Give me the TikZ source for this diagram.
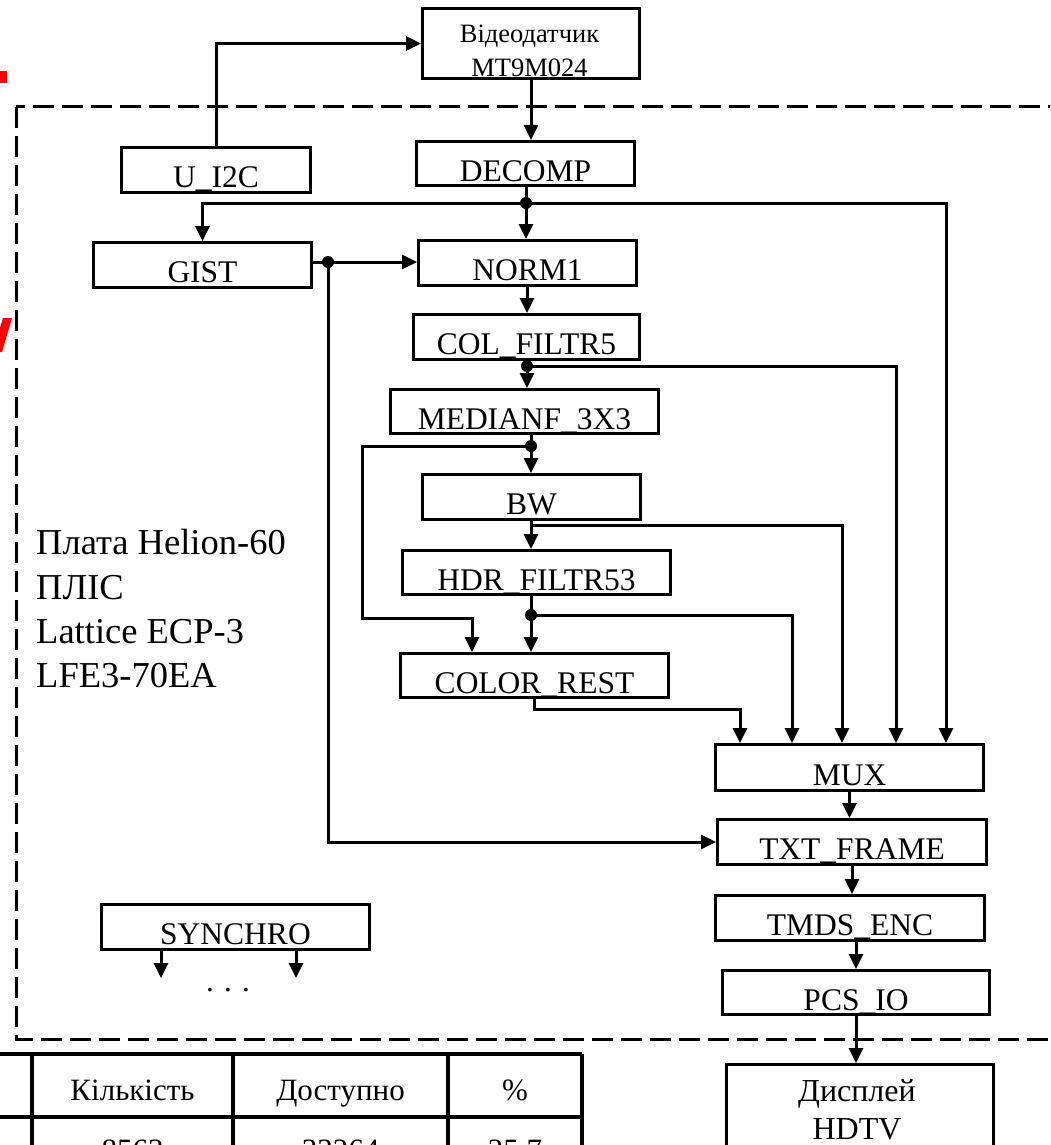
\documentclass[tikz,border=0pt]{standalone}
\usepackage{fontspec}
\setmainfont{Liberation Serif}
\usetikzlibrary{arrows.meta}
\begin{document}
\begin{tikzpicture}[x=1pt,y=-1pt,
  blk/.style={draw, line width=3pt, rectangle, anchor=north west, inner sep=0pt,
    text height=35pt, text depth=0pt, font=\fontsize{31.5}{37}\selectfont},
  con/.style={line width=3pt},
  arr/.style={con, -{Triangle[length=15pt,width=14pt]}},
  jdot/.style={circle, fill, inner sep=0pt, minimum size=12pt},
  lbl/.style={anchor=base, inner sep=0pt},
  big/.style={font=\fontsize{36.5}{42}\selectfont},
  mid/.style={font=\fontsize{31}{37}\selectfont},
  small/.style={font=\fontsize{26.5}{30}\selectfont},
  tbl/.style={line width=3.2pt}]
\useasboundingbox (0,0) rectangle (1050,1145);
\clip (0,0) rectangle (1050,1145);
\fill[white] (0,0) rectangle (1050,1145);

% red fragments at the left edge
\fill[red] (0,71) rectangle (7,83);
\fill[red] (3,318) -- (12,318) -- (2,352) -- (0,352) -- (0,328) -- cycle;

% dashed board outline
\draw[line width=3pt, dash pattern=on 21pt off 8pt] (16,107) rectangle (1075,1039);

% blocks
\node[draw, line width=3pt, anchor=north west, inner sep=0pt, minimum width=217pt, minimum height=70pt] (sensor) at (421,7) {};
\node[lbl, small] (sensorA) at (529.5,43) {Відеодатчик};
\node[lbl, small] (sensorB) at (529.5,77) {MT9M024};
\node[blk, minimum width=189pt, minimum height=45pt] (ui2c) at (120,146) {U\_I2C};
\node[blk, minimum width=218pt, minimum height=44pt] (decomp) at (415,140) {DECOMP};
\node[blk, minimum width=218pt, minimum height=45pt] (gist) at (92,241) {GIST};
\node[blk, minimum width=218pt, minimum height=45pt] (norm1) at (417,239) {NORM1};
\node[blk, minimum width=226pt, minimum height=45pt] (col5) at (412,313) {COL\_FILTR5};
\node[blk, minimum width=268pt, minimum height=44pt] (medf) at (389,388) {MEDIANF\_3X3};
\node[blk, minimum width=218pt, minimum height=45pt] (bw) at (421,473) {BW};
\node[blk, minimum width=268pt, minimum height=44pt] (hdr) at (401,549) {HDR\_FILTR53};
\node[blk, minimum width=268pt, minimum height=44pt] (crest) at (399,652) {COLOR\_REST};
\node[blk, minimum width=268pt, minimum height=46pt] (mux) at (714,743) {MUX};
\node[blk, minimum width=269pt, minimum height=45pt] (txt) at (716,818) {TXT\_FRAME};
\node[blk, minimum width=269pt, minimum height=45pt] (tmds) at (714,894) {TMDS\_ENC};
\node[blk, minimum width=267pt, minimum height=44pt] (pcs) at (721,969) {PCS\_IO};
\node[blk, minimum width=268pt, minimum height=45pt] (sync) at (100,903) {SYNCHRO};
\node[draw, line width=3pt, anchor=north west, inner sep=0pt, minimum width=267pt, minimum height=110pt] (disp) at (725,1063) {};
\node[lbl, font=\fontsize{32}{38}\selectfont] (dispA) at (857,1101) {Дисплей};
\node[lbl, font=\fontsize{32}{38}\selectfont] (dispB) at (857,1139) {HDTV};

% board label
\node[anchor=base west, inner sep=0pt, big] (boardA) at (36,554) {Плата Helion-60};
\node[anchor=base west, inner sep=0pt, big] (boardB) at (36,599) {ПЛІС};
\node[anchor=base west, inner sep=0pt, big] (boardC) at (36,643) {Lattice ECP-3};
\node[anchor=base west, inner sep=0pt, big] (boardD) at (36,687) {LFE3-70EA};

% junctions
\coordinate (j1) at (526,203);
\coordinate (j2) at (328,262);
\coordinate (j3) at (527,366);
\coordinate (j4) at (531,446);
\coordinate (j5) at (531,525);
\coordinate (j6) at (531,615);
\coordinate (k1) at (362,618);

% connectors
\draw[arr] (ui2c.north) |- (sensor.west);
\draw[arr] (sensor.south) -- (sensor.south |- decomp.north);
\draw[arr] (decomp.south -| j1) -- (norm1.north -| j1);
\draw[arr] (j1) -| (gist.north);
\draw[arr] (j1) -| ([xshift=232pt]mux.north west);
\draw[arr] (gist.east |- j2) -- (norm1.west |- j2);
\draw[arr] (j2) |- (txt.west);
\draw[arr] (norm1.south -| j3) -- (col5.north -| j3);
\draw[arr] (col5.south -| j3) -- (medf.north -| j3);
\draw[arr] (j3) -| ([xshift=182pt]mux.north west);
\draw[arr] (medf.south -| j4) -- (bw.north -| j4);
\draw[arr] (j4) -| (k1) -| ([xshift=73pt]crest.north west);
\draw[arr] (bw.south -| j4) -- (hdr.north -| j4);
\draw[arr] (j5) -| ([xshift=128pt]mux.north west);
\draw[arr] (hdr.south -| j4) -- (crest.north -| j4);
\draw[arr] (j6) -| ([xshift=78pt]mux.north west);
\draw[arr] (crest.south) -- ++(0,10) -| ([xshift=26pt]mux.north west);
\draw[arr] (mux.south) -- (mux.south |- txt.north);
\draw[arr] (txt.south) -- (txt.south |- tmds.north);
\draw[arr] ([xshift=6pt]tmds.south) -- ([xshift=6pt]tmds.south |- pcs.north);
\draw[arr] (pcs.south) -- (pcs.south |- disp.north);
\draw[arr] ([xshift=61pt]sync.south west) -- ++(0,27);
\draw[arr] ([xshift=196pt]sync.south west) -- ++(0,27);
\node[lbl, mid] (etc) at (228,991) {. . .};

\foreach \j in {j1,j2,j3,j4,j6} \node[jdot] at (\j) {};

% resource table (cut by the frame)
\draw[tbl] (-10,1054) -- (582,1054);
\draw[tbl] (-10,1117) -- (582,1117);
\foreach \x in {32,233,448,582} \draw[tbl] (\x,1054) -- (\x,1160);
\node[lbl, mid] (hA) at (132.5,1100) {Кількість};
\node[lbl, mid] (hB) at (340.5,1100) {Доступно};
\node[lbl, mid] (hC) at (515,1100) {\%};
\node[lbl, mid] (vA) at (132.5,1160) {8563};
\node[lbl, mid] (vB) at (340.5,1160) {33264};
\node[lbl, mid] (vC) at (515,1160) {25.7};
\end{tikzpicture}
\end{document}
